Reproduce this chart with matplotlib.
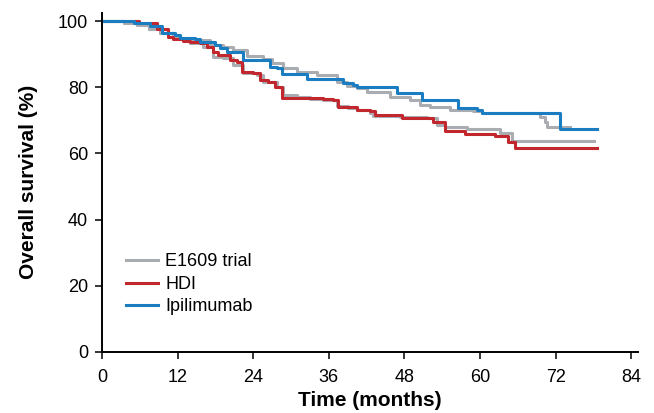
import matplotlib
matplotlib.use('Agg')
import matplotlib.pyplot as plt

plt.rcParams['font.family'] = ['Liberation Sans', 'DejaVu Sans']

# E1609 trial, HDI arm (grey, lower)
t_trial_hdi = [0, 3.5, 5.6, 7.5, 9.2, 11.3, 12.8, 14, 16, 17.6, 19.2, 20.8, 22.4, 24.6, 25.6,
               27.8, 28.7, 31, 33, 35.1, 37.3, 39, 40.5, 42.5, 43, 47.3, 51.6, 53.2, 54.4,
               57.9, 63.2, 65.1, 78]
s_trial_hdi = [100, 99.4, 98.8, 97.6, 96.4, 94.9, 94.2, 93.4, 92.1, 89.1, 88.8, 86.7, 84.3, 83.7, 81.6,
               80, 77.6, 77, 76.5, 76.1, 74.3, 73.7, 73.1, 72.2, 71.3, 71, 70.7, 68.6, 68,
               67.4, 66.2, 63.7, 63.7]

# E1609 trial, ipilimumab arm (grey, upper)
t_trial_ipi = [0, 3.5, 5.6, 7.5, 9.2, 11.3, 14, 17.1, 19.2, 20.8, 23, 25.6, 27, 28.7, 31, 34.1,
               37.3, 38.9, 40.5, 42.1, 45.7, 48.9, 50.5, 52, 55.2, 58.9, 60.3, 69.5, 70.3,
               70.6, 74.2]
s_trial_ipi = [100, 99.4, 98.8, 97.6, 96.4, 94.9, 94.3, 92.7, 92.1, 91.2, 89.4, 88.5, 87.3, 85.8, 84.6,
               83.7, 81.6, 80.4, 79.8, 78.5, 77, 76.1, 74.6, 74, 73.1, 72.8, 72.2, 71, 69.5,
               68, 68]

# HDI (red)
t_hdi = [0, 5.8, 8.7, 10.5, 11.3, 12.9, 14, 15.6, 16.7, 17.6, 18.4, 20.3, 21.4, 22.2, 24, 25.1,
         26.3, 27.5, 28.6, 35.1, 36.7, 37.5, 40.5, 42.5, 43.3, 47.6, 52.5, 54.4, 57.6, 62.4,
         64.4, 65.6, 78.6]
s_hdi = [100, 99.3, 97.6, 95.2, 94.6, 94, 93.7, 93.4, 92.1, 90.6, 89.7, 88.2, 87.6, 84.6, 84.3, 82.2,
         81.6, 80, 76.7, 76.4, 76.1, 74, 73.1, 72.8, 71.6, 70.7, 69.5, 66.8, 65.9, 65.3,
         63.4, 61.6, 61.6]

# Ipilimumab (blue)
t_ipi = [0, 5, 7.6, 9.5, 11.6, 12.4, 14.8, 15.6, 17.9, 18.7, 19.8, 22.4, 26.7, 27.8, 28.6,
         32.5, 38.3, 39.8, 40.5, 46.8, 50.8, 56.5, 59.5, 60.3, 72.7, 78.6]
s_ipi = [100, 99.3, 98.5, 96.4, 95.8, 94.9, 94.6, 93.7, 92.7, 91.8, 90.6, 88.2, 86.1, 85.8, 84,
         82.5, 81.3, 80.7, 80, 78.2, 76.1, 73.7, 73, 72.2, 67.4, 67.4]

xticks = [0, 12, 24, 36, 48, 60, 72, 84]
yticks = [0, 20, 40, 60, 80, 100]

grey = '#a9adb2'
red = '#c1272d'
blue = '#1b7dc1'

fig = plt.figure(figsize=(6.54, 4.13), dpi=100)
ax = fig.add_axes([0.156, 0.148, 0.819, 0.821])

ax.step(t_trial_hdi, s_trial_hdi, where='post', color=grey, lw=2.2, label='E1609 trial')
ax.step(t_trial_ipi, s_trial_ipi, where='post', color=grey, lw=2.2, label='_nolegend_')
ax.step(t_hdi, s_hdi, where='post', color=red, lw=2.2, label='HDI')
ax.step(t_ipi, s_ipi, where='post', color=blue, lw=2.2, label='Ipilimumab')

ax.set_xlim(0, 85)
ax.set_ylim(0, 102.5)
ax.set_xticks(xticks)
ax.set_yticks(yticks)
ax.spines['top'].set_visible(False)
ax.spines['right'].set_visible(False)
for s in ['left', 'bottom']:
    ax.spines[s].set_linewidth(1.4)
ax.tick_params(direction='out', length=5, width=1.1, labelsize=13)
ax.tick_params(axis='x', pad=7)
ax.tick_params(axis='y', pad=5)

ax.set_xlabel('Time (months)', fontsize=15, fontweight='bold', labelpad=4)
ax.set_ylabel('Overall survival (%)', fontsize=15, fontweight='bold', labelpad=14)

ax.legend(loc='lower left', bbox_to_anchor=(0.015, 0.06), frameon=False, fontsize=13,
          handlelength=1.75, handletextpad=0.4, labelspacing=0.3)

fig.savefig('out.png', dpi=100)
